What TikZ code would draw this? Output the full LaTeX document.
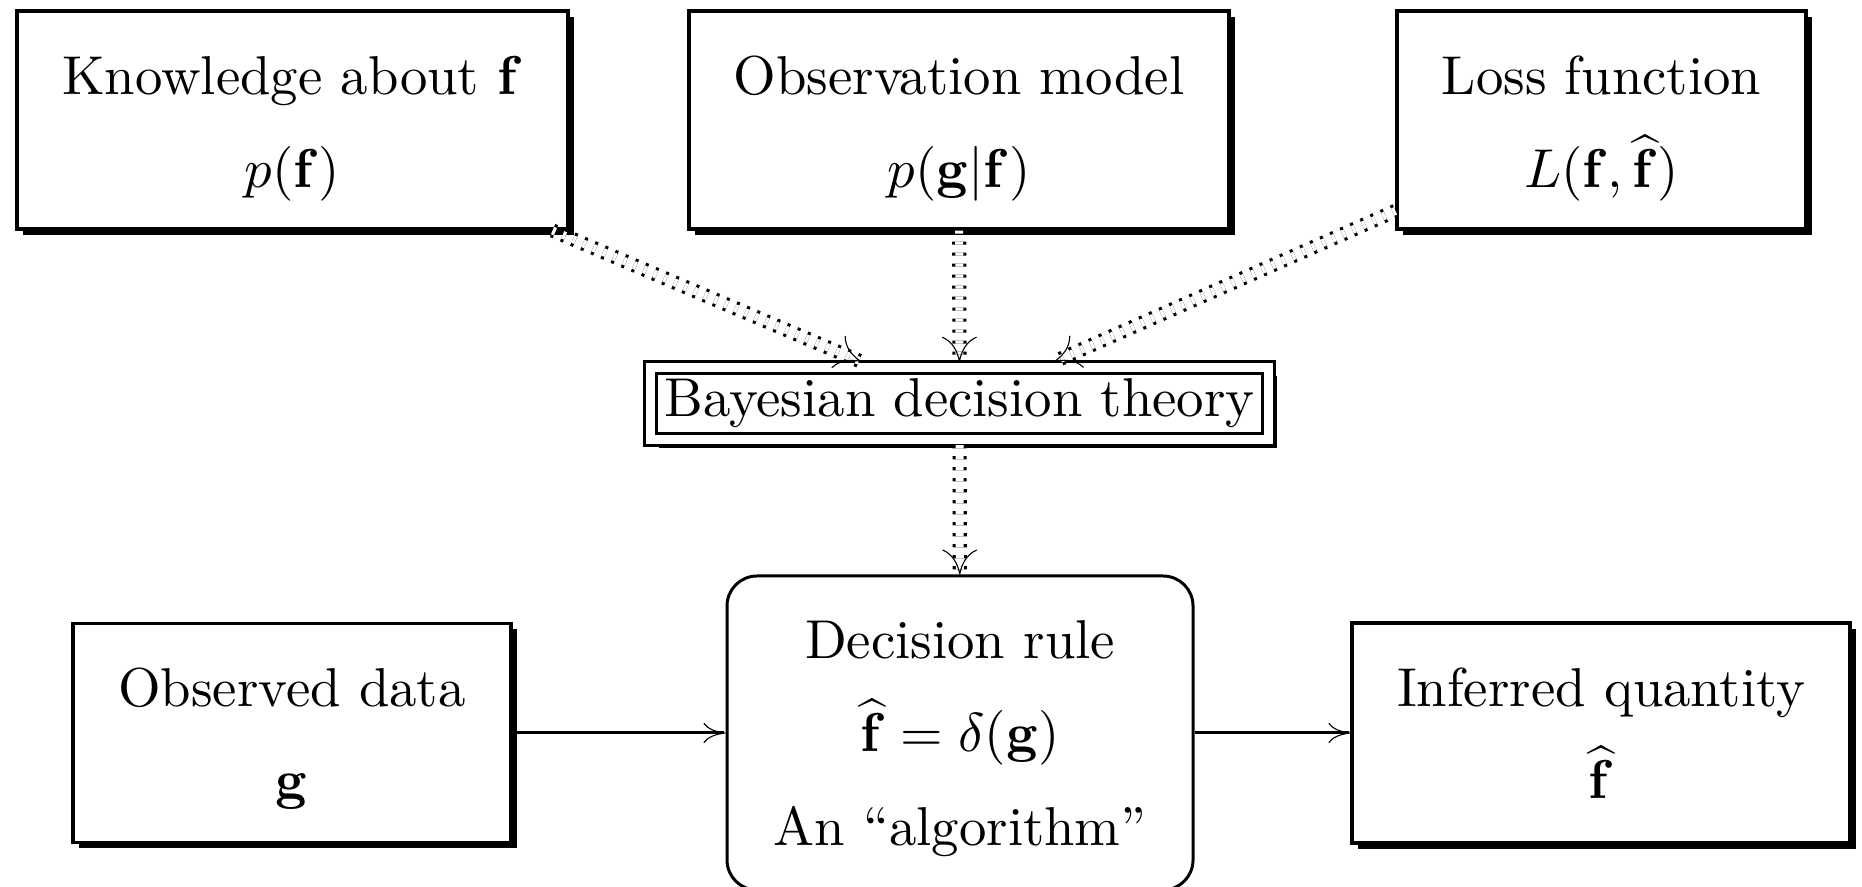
\documentclass[tikz,border=0pt]{standalone}
\usetikzlibrary{shadows,arrows.meta,decorations.markings}
\begin{document}
\begin{tikzpicture}[x=0.2pt,y=-0.2pt,
  every node/.style={font=\fontsize{10.95pt}{13.6pt}\selectfont, inner sep=0pt},
  txt/.style={anchor=base},
  shadowbox/.style={draw, line width=0.62pt, fill=white, rectangle,
    drop shadow={shadow xshift=1.2pt, shadow yshift=-1.2pt, fill=black, opacity=1}},
  doublebox/.style={draw, double, double distance=1.72pt, line width=0.6pt,
    fill=white, rectangle, outer sep=1.15pt,
    drop shadow={shadow xshift=1.75pt, shadow yshift=-1.75pt, fill=black, opacity=1}},
  roundbox/.style={draw, line width=0.6pt, fill=white, rectangle, rounded corners=6pt},
  dots/.style={double, double distance=1.6pt, line width=0.62pt,
    dash pattern=on 0.62pt off 1.58pt},
  dottip/.style={decorate, decoration={markings, mark=at position 1 with
    {\arrow{Computer Modern Rightarrow[length=5pt,width=7pt,line width=0.22pt]}}}},
  flow/.style={line width=0.6pt,
    -{Computer Modern Rightarrow[length=4.4pt,width=4pt,line width=0.22pt]}}
]
\useasboundingbox (0,0) rectangle (1862,887);

% top row: the three inputs
\node[shadowbox, minimum width=110.2pt, minimum height=43.6pt] (know) at (292.5,120) {};
\node[shadowbox, minimum width=108pt, minimum height=43.6pt] (obsm) at (959,120) {};
\node[shadowbox, minimum width=81.8pt, minimum height=43.6pt] (loss) at (1601.5,120) {};

\node[txt] (know1) at (292.5,95) {Knowledge about $\mathbf{f}$};
\node[txt] (know2) at (292.5,188) {$p(\mathbf{f})$};
\node[txt] (obsm1) at (959,95) {Observation model};
\node[txt] (obsm2) at (959,188) {$p(\mathbf{g}|\mathbf{f})$};
\node[txt] (loss1) at (1601.5,95) {Loss function};
\node[txt] (loss2) at (1601.5,188) {$L(\mathbf{f},\widehat{\mathbf{f}})$};

% the theory in the middle
\node[doublebox, minimum width=123.6pt, minimum height=14.4pt] (bayes) at (959.5,403.5)
  {Bayesian decision theory};

% bottom row
\node[shadowbox, minimum width=87.6pt, minimum height=43.8pt] (obs) at (292,733) {};
\node[roundbox, minimum width=93.2pt, minimum height=62.8pt] (dec) at (960,733) {};
\node[shadowbox, minimum width=99.6pt, minimum height=44pt] (inf) at (1601,733) {};

\node[txt] (obs1) at (292,707) {Observed data};
\node[txt] (obs2) at (292,799) {$\mathbf{g}$};
\node[txt] (dec1) at (960,659) {Decision rule};
\node[txt] (dec2) at (960,752) {$\widehat{\mathbf{f}} = \delta(\mathbf{g})$};
\node[txt] (dec3) at (960,846) {An ``algorithm''};
\node[txt] (inf1) at (1601,707) {Inferred quantity};
\node[txt] (inf2) at (1601,799) {$\widehat{\mathbf{f}}$};

% dotted double connectors into and out of the theory
\draw[dots] (know) -- (bayes);
\draw[dots] (obsm) -- (bayes);
\draw[dots] (loss) -- (bayes);
\draw[dots] (bayes) -- (dec);
\path[dottip] (know) -- (bayes);
\path[dottip] (obsm) -- (bayes);
\path[dottip] (loss) -- (bayes);
\path[dottip] (bayes) -- (dec);

% data flow
\draw[flow] (obs) -- (dec);
\draw[flow] (dec) -- (inf);
\end{tikzpicture}
\end{document}
